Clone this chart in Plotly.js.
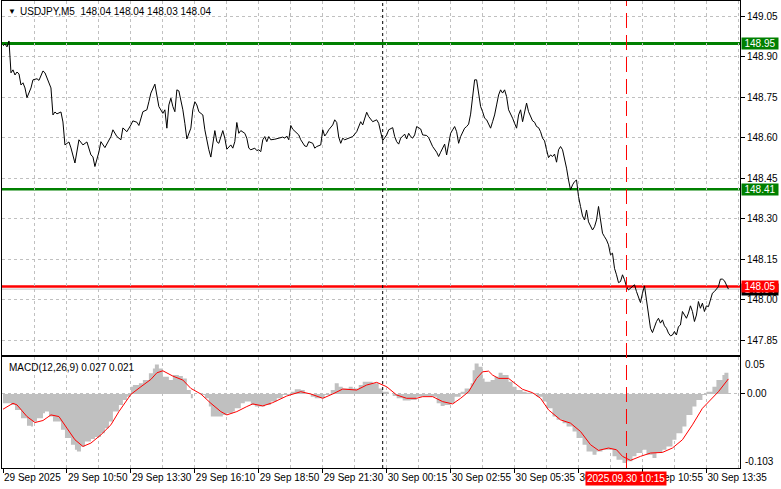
<!DOCTYPE html>
<html><head><meta charset="utf-8">
<script src="https://cdn.plot.ly/plotly-3.0.1.min.js"></script>
<style>html,body{margin:0;padding:0;background:#fff}#chart{width:781px;height:489px}</style>
</head><body><div id="chart"></div>
<script>
// ---------- data ----------
const symbolText = "USDJPY,M5";
const ohlcValues = ["148.04", "148.04", "148.03", "148.04"];
const macdName = "MACD(12,26,9)";
const macdLast = ["0.027", "0.021"];

const timeTickIdx = [0, 32, 64, 96, 128, 160, 192, 224, 256, 288, 320, 352];
const timeTickText = ["29 Sep 2025", "29 Sep 10:50", "29 Sep 13:30", "29 Sep 16:10", "29 Sep 18:50", "29 Sep 21:30",
  "30 Sep 00:15", "30 Sep 02:55", "30 Sep 05:35", "30 Sep 08:15", "30 Sep 10:55", "30 Sep 13:35"];

const priceIdx = [0,1,2,3,4,5,6,7,8,9,10,11,12,14,15,17,18,20,21,24,25,26,27,29,30,31,33,34,36,38,40,42,44,45,46,48,49,51,54,55,57,59,60,62,64,65,67,68,70,72,73,74,76,77,78,80,81,82,83,84,85,86,87,88,90,91,92,94,95,96,97,98,100,101,102,103,104,105,106,107,108,110,111,112,113,114,115,116,117,118,119,121,122,123,124,126,127,128,129,130,131,132,133,134,136,138,140,141,142,143,144,145,147,148,149,150,151,152,153,155,156,157,159,160,161,162,163,165,166,167,168,169,170,171,174,175,177,179,180,182,183,184,185,187,188,190,192,193,194,195,196,197,198,199,201,202,203,204,205,206,207,208,209,210,212,213,214,215,217,218,219,220,221,222,223,224,225,226,227,228,229,230,231,232,233,234,235,236,237,238,239,240,241,242,243,244,245,246,247,248,249,250,251,252,253,254,255,256,257,258,259,260,261,262,263,264,265,266,267,268,269,270,271,272,273,274,275,276,277,278,279,280,281,282,283,284,285,286,287,288,289,290,291,292,293,294,295,296,297,298,299,300,301,302,303,304,305,306,307,308,309,310,311,312,313,314,315,316,317,318,319,320,321,322,323,324,325,326,327,328,329,330,331,332,333,334,335,336,337,338,339,340,341,342,343,344,345,346,347,348,349,350,351,352,353,354,355,356,357,358,359,360,361,362,363];
const priceClose = [148.941,148.948,148.937,148.959,148.841,148.852,148.833,148.844,148.837,148.796,148.804,148.785,148.749,148.785,148.815,148.819,148.813,148.848,148.841,148.785,148.685,148.696,148.689,148.696,148.659,148.574,148.585,148.563,148.507,148.593,148.574,148.585,148.537,148.530,148.494,148.548,148.586,148.564,148.605,148.630,148.605,148.593,148.637,148.623,148.648,148.663,148.658,148.646,148.697,148.704,148.734,148.766,148.799,148.759,148.716,148.691,148.704,148.636,148.722,148.747,148.716,148.697,148.778,148.774,148.704,148.654,148.596,148.636,148.704,148.734,148.722,148.697,148.685,148.630,148.586,148.556,148.529,148.574,148.627,148.586,148.580,148.627,148.599,148.558,148.568,148.574,148.562,148.586,148.657,148.617,148.627,148.617,148.599,148.562,148.556,148.562,148.553,148.556,148.549,148.593,148.605,148.586,148.605,148.593,148.595,148.599,148.603,148.599,148.607,148.593,148.646,148.632,148.617,148.611,148.593,148.583,148.570,148.568,148.586,148.580,148.562,148.568,148.574,148.630,148.607,148.617,148.630,148.648,148.667,148.657,148.603,148.580,148.599,148.593,148.603,148.605,148.623,148.660,148.648,148.695,148.679,148.667,148.660,148.667,148.654,148.590,148.611,148.630,148.633,148.638,148.605,148.586,148.577,148.599,148.614,148.596,148.617,148.605,148.599,148.611,148.642,148.636,148.633,148.611,148.609,148.601,148.586,148.568,148.547,148.531,148.547,148.564,148.577,148.537,148.574,148.617,148.630,148.642,148.623,148.580,148.605,148.623,148.636,148.642,148.651,148.688,148.753,148.815,148.815,148.771,148.716,148.697,148.673,148.667,148.651,148.636,148.660,148.685,148.722,148.759,148.778,148.766,148.778,148.753,148.704,148.691,148.673,148.654,148.636,148.685,148.704,148.660,148.697,148.729,148.697,148.679,148.663,148.658,148.642,148.638,148.623,148.599,148.589,148.556,148.527,148.537,148.531,148.540,148.510,148.556,148.568,148.556,148.526,148.488,148.444,148.407,148.426,148.438,148.444,148.383,148.346,148.311,148.296,148.333,148.289,148.271,148.259,148.271,148.296,148.346,148.296,148.247,148.234,148.222,148.204,148.167,148.173,148.117,148.093,148.064,148.068,148.093,148.075,148.049,148.037,148.043,148.049,148.056,148.031,148.006,147.990,148.025,148.052,148.000,147.951,147.895,147.879,147.901,147.920,147.932,147.914,147.926,147.904,147.895,147.877,147.867,147.870,147.883,147.870,147.901,147.907,147.957,147.944,147.932,147.951,147.978,147.957,147.920,147.944,147.994,147.969,147.988,147.957,147.978,147.975,148.000,148.025,148.031,148.040,148.049,148.077,148.077,148.071,148.056,148.040];

const histIdx = [0,4,6,9,12,14,15,17,20,21,23,25,29,31,34,36,37,39,41,44,46,49,51,53,55,58,60,62,64,65,68,70,73,75,76,78,80,83,85,88,90,92,94,95,99,101,103,104,107,110,112,115,116,119,121,124,126,129,131,134,137,140,144,146,149,151,154,156,159,161,164,166,168,170,173,175,178,180,183,185,188,190,193,195,197,200,204,207,210,214,217,219,221,224,226,229,231,234,235,236,238,240,241,244,246,248,250,253,255,257,260,262,265,267,270,272,275,277,280,282,285,287,290,292,295,297,300,302,305,307,310,312,315,317,320,322,325,327,330,332,335,337,340,342,345,347,350,352,355,357,360,361,363];
const histVal = [-0.0129,-0.0152,-0.0222,-0.0337,-0.0443,-0.0453,-0.0383,-0.0337,-0.0268,-0.0245,-0.0314,-0.0383,-0.0499,-0.0614,-0.0706,-0.0776,-0.0799,-0.0730,-0.0661,-0.0628,-0.0600,-0.0545,-0.0476,-0.0383,-0.0245,-0.0152,-0.0083,-0.0037,0.0101,0.0125,0.0148,0.0194,0.0287,0.0356,0.0411,0.0356,0.0240,0.0194,0.0263,0.0249,0.0217,0.0055,-0.0060,0.0000,-0.0014,-0.0060,-0.0175,-0.0314,-0.0314,-0.0291,-0.0268,-0.0245,-0.0199,-0.0129,-0.0106,-0.0152,-0.0175,-0.0175,-0.0152,-0.0106,-0.0060,-0.0014,0.0032,0.0065,0.0055,0.0009,-0.0037,-0.0060,-0.0060,-0.0014,0.0055,0.0148,0.0101,0.0078,0.0101,0.0078,0.0125,0.0171,0.0171,0.0148,0.0078,0.0032,0.0000,-0.0028,-0.0060,-0.0092,-0.0083,-0.0037,-0.0028,-0.0037,-0.0129,-0.0166,-0.0152,-0.0129,-0.0037,0.0032,0.0078,0.0148,0.0332,0.0425,0.0378,0.0217,0.0171,0.0194,0.0240,0.0295,0.0263,0.0171,0.0101,0.0055,0.0032,0.0018,0.0009,-0.0037,-0.0106,-0.0199,-0.0314,-0.0360,-0.0406,-0.0453,-0.0522,-0.0614,-0.0706,-0.0799,-0.0845,-0.0799,-0.0776,-0.0776,-0.0868,-0.0914,-0.0960,-0.0937,-0.0868,-0.0822,-0.0776,-0.0845,-0.0891,-0.0822,-0.0776,-0.0730,-0.0637,-0.0545,-0.0453,-0.0291,-0.0175,-0.0083,-0.0014,0.0032,0.0101,0.0194,0.0263,0.0295,0.0270];

const signalIdx = [0,5,7,12,16,20,24,28,32,36,40,44,49,54,58,64,69,74,77,80,85,90,94,99,104,109,112,117,122,125,130,135,142,149,154,160,165,170,177,182,187,192,197,202,207,210,215,220,225,229,233,237,240,243,245,248,253,256,260,265,269,273,279,284,289,294,298,303,307,310,314,319,324,330,335,340,345,350,354,358,363];
const signalVal = [-0.0212,-0.0129,-0.0152,-0.0314,-0.0397,-0.0369,-0.0291,-0.0314,-0.0476,-0.0637,-0.0730,-0.0683,-0.0568,-0.0429,-0.0245,-0.0005,0.0101,0.0203,0.0295,0.0323,0.0249,0.0194,0.0078,0.0000,-0.0129,-0.0245,-0.0291,-0.0245,-0.0175,-0.0138,-0.0166,-0.0120,-0.0028,0.0032,0.0000,-0.0060,0.0000,0.0069,0.0055,0.0125,0.0162,0.0101,-0.0014,-0.0060,-0.0060,-0.0037,-0.0037,-0.0106,-0.0138,-0.0060,0.0032,0.0217,0.0309,0.0318,0.0263,0.0217,0.0217,0.0148,0.0065,0.0018,-0.0060,-0.0222,-0.0360,-0.0406,-0.0522,-0.0706,-0.0785,-0.0752,-0.0776,-0.0868,-0.0924,-0.0868,-0.0822,-0.0813,-0.0752,-0.0637,-0.0429,-0.0199,-0.0083,0.0032,0.0210];

const levelPrices = [148.95, 148.41, 148.05];
const bidPrice = 148.04;
const crossIdx = 312;
const crossLabel = "2025.09.30 10:15";
const separatorIdx = 190;
const macdScaleLabels = ["0.05", "-0.103"];

// ---------- styles ----------
const levelColors = ['#008000', '#008000', '#ff0000'];
const levelWidths = [3, 2.5, 2.5];
const gridCol = '#c0c0c0';
const FONT = '"Liberation Sans", Arial, sans-serif';
const xRange = [-0.5, 368.8];

const traces = [
  {x: histIdx, y: histVal, xaxis: 'x2', yaxis: 'y2', type: 'scatter', mode: 'lines',
   line: {shape: 'hv', width: 0, color: '#c0c0c0'}, fill: 'tozeroy', fillcolor: '#c0c0c0', hoverinfo: 'skip'},
  {x: signalIdx, y: signalVal, xaxis: 'x2', yaxis: 'y2', type: 'scatter', mode: 'lines',
   line: {color: '#ff0000', width: 1}, hoverinfo: 'skip'},
  {x: priceIdx, y: priceClose, xaxis: 'x', yaxis: 'y', type: 'scatter', mode: 'lines',
   line: {color: '#000000', width: 1}, hoverinfo: 'skip'}
];

const shapes = [];
shapes.push({type: 'line', xref: 'paper', x0: 0, x1: 1, yref: 'y', y0: bidPrice, y1: bidPrice,
  line: {color: '#c0c0c0', width: 1}, layer: 'below'});
levelPrices.forEach((p, k) => shapes.push({type: 'line', xref: 'paper', x0: 0, x1: 1, yref: 'y', y0: p, y1: p,
  line: {color: levelColors[k], width: levelWidths[k]}, layer: 'below'}));
shapes.push({type: 'line', xref: 'x', x0: separatorIdx, x1: separatorIdx, yref: 'paper', y0: 0, y1: 1,
  line: {color: '#000', width: 1, dash: '3px,3px'}, layer: 'above'});
shapes.push({type: 'line', xref: 'x', x0: crossIdx, x1: crossIdx, yref: 'paper', y0: 0, y1: 1,
  line: {color: '#ff0000', width: 1, dash: '15px,7px'}, layer: 'above'});

const annotations = [];
annotations.push({xref: 'paper', x: 0, xanchor: 'left', xshift: 4, yref: 'paper', y: 1, yanchor: 'top', yshift: -4,
  text: '▼', showarrow: false, font: {family: FONT, size: 8, color: '#000'}});
annotations.push({xref: 'paper', x: 0, xanchor: 'left', xshift: 16, yref: 'paper', y: 1, yanchor: 'top', yshift: -3,
  text: symbolText + '  ' + ohlcValues.join(' '), showarrow: false, font: {family: FONT, size: 10, color: '#000'}});
annotations.push({xref: 'paper', x: 0, xanchor: 'left', xshift: 5, yref: 'y2 domain', y: 1, yanchor: 'top', yshift: -3,
  text: macdName + ' ' + macdLast.join(' '), showarrow: false, font: {family: FONT, size: 10, color: '#000'}});
// price boxes on the right scale
annotations.push({xref: 'paper', x: 1, xanchor: 'left', xshift: 1, yref: 'y', y: bidPrice, yanchor: 'middle',
  text: bidPrice.toFixed(2), showarrow: false, bgcolor: '#000', width: 36, align: 'center', borderpad: 0,
  font: {family: FONT, size: 10, color: '#fff'}});
levelPrices.forEach((p, k) => annotations.push({xref: 'paper', x: 1, xanchor: 'left', xshift: 1, yref: 'y', y: p,
  yanchor: 'middle', text: p.toFixed(2), showarrow: false, bgcolor: levelColors[k], width: 36, align: 'center',
  borderpad: 0, font: {family: FONT, size: 10, color: '#fff'}}));
// MACD scale extremes
annotations.push({xref: 'paper', x: 1, xanchor: 'left', xshift: 3, yref: 'y2 domain', y: 0.93, yanchor: 'middle',
  text: macdScaleLabels[0], showarrow: false, font: {family: FONT, size: 10, color: '#000'}});
annotations.push({xref: 'paper', x: 1, xanchor: 'left', xshift: 3, yref: 'y2 domain', y: 0.057, yanchor: 'middle',
  text: macdScaleLabels[1], showarrow: false, font: {family: FONT, size: 10, color: '#000'}});
// crosshair time label
annotations.push({xref: 'x2', x: crossIdx, xanchor: 'center', yref: 'paper', y: 0, yanchor: 'top', yshift: -3,
  text: crossLabel, showarrow: false, bgcolor: '#ff0000', borderpad: 1, font: {family: FONT, size: 10, color: '#fff'}});

const gridMinor = {tickmode: 'linear', tick0: 16, dtick: 32, showgrid: true, gridcolor: gridCol, griddash: '3px,3px', gridwidth: 1, ticks: ''};

const layout = {
  width: 781, height: 489,
  margin: {l: 2, r: 41, t: 1, b: 21, pad: 0},
  paper_bgcolor: '#ffffff', plot_bgcolor: '#ffffff',
  showlegend: false, hovermode: false,
  font: {family: FONT, size: 10, color: '#000'},
  xaxis: {domain: [0, 1], anchor: 'y', range: xRange, showline: true, mirror: true, linecolor: '#000', linewidth: 1,
    tickmode: 'array', tickvals: timeTickIdx, showticklabels: false, ticks: '',
    showgrid: true, gridcolor: gridCol, griddash: '3px,3px', gridwidth: 1, zeroline: false, minor: gridMinor},
  xaxis2: {domain: [0, 1], anchor: 'y2', range: xRange, showline: true, mirror: true, linecolor: '#000', linewidth: 1,
    tickmode: 'array', tickvals: timeTickIdx, ticktext: timeTickText, ticks: 'outside', ticklen: 4, tickcolor: '#000',
    tickangle: 0, ticklabelposition: 'outside right', tickfont: {family: FONT, size: 10, color: '#000'},
    showgrid: true, gridcolor: gridCol, griddash: '3px,3px', gridwidth: 1, zeroline: false, minor: gridMinor},
  yaxis: {domain: [0.242, 1], anchor: 'x', side: 'right', range: [147.796, 149.107],
    tickmode: 'linear', tick0: 147.85, dtick: 0.15, tickformat: '.2f', ticks: 'outside', ticklen: 4, tickcolor: '#000',
    tickfont: {family: FONT, size: 10, color: '#000'}, showline: true, mirror: true, linecolor: '#000', linewidth: 1,
    showgrid: true, gridcolor: gridCol, griddash: '3px,3px', gridwidth: 1, zeroline: false},
  yaxis2: {domain: [0, 0.2377], anchor: 'x2', side: 'right', range: [-0.103, 0.0515],
    tickmode: 'array', tickvals: [0], ticktext: ['0.00'], ticks: 'outside', ticklen: 4, tickcolor: '#000',
    tickfont: {family: FONT, size: 10, color: '#000'}, showline: true, mirror: true, linecolor: '#000', linewidth: 1,
    showgrid: true, gridcolor: gridCol, griddash: '3px,3px', gridwidth: 1, zeroline: false},
  shapes: shapes,
  annotations: annotations
};

Plotly.newPlot('chart', traces, layout, {staticPlot: true, displayModeBar: false});
</script>
</body></html>
